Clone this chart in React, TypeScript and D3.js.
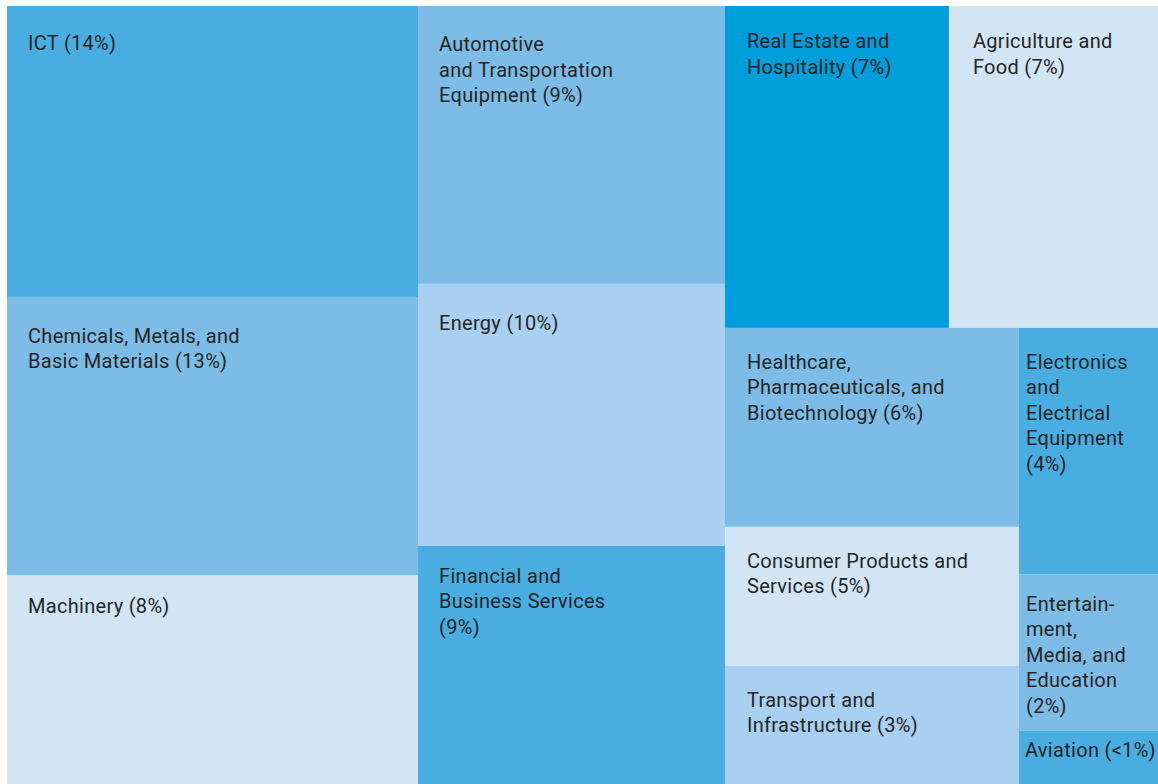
import React from "react";
import * as d3 from "d3";

// ---- data ----
const sectorNames = [
  "ICT",
  "Chemicals",
  "Machinery",
  "Automotive",
  "Energy",
  "Financial",
  "RealEstate",
  "Agriculture",
  "Healthcare",
  "Consumer",
  "Transport",
  "Electronics",
  "Entertainment",
  "Aviation",
];

// relative area of each tile
const sectorSizes = [119.6, 114.3, 85.9, 85.3, 80.4, 73.1, 72.1, 67.3, 58.5, 40.9, 34.7, 34.3, 21.7, 7.4];

const sectorLabels = [
  ["ICT (14%)"],
  ["Chemicals, Metals, and", "Basic Materials (13%)"],
  ["Machinery (8%)"],
  ["Automotive", "and Transportation", "Equipment (9%)"],
  ["Energy (10%)"],
  ["Financial and", "Business Services", "(9%)"],
  ["Real Estate and", "Hospitality (7%)"],
  ["Agriculture and", "Food (7%)"],
  ["Healthcare,", "Pharmaceuticals, and", "Biotechnology (6%)"],
  ["Consumer Products and", "Services (5%)"],
  ["Transport and", "Infrastructure (3%)"],
  ["Electronics", "and", "Electrical", "Equipment", "(4%)"],
  ["Entertain-", "ment,", "Media, and", "Education", "(2%)"],
  ["Aviation (<1%)"],
];

// group path of each sector in the nested layout
const sectorGroups = [
  "c1", "c1", "c1",
  "c2", "c2", "c2",
  "r/top", "r/top",
  "r/bot/left", "r/bot/left", "r/bot/left",
  "r/bot/right", "r/bot/right", "r/bot/right",
];

// ---- styles ----
const C1 = "#4aade2";
const C2 = "#7dbce6";
const C3 = "#a9d0f0";
const C4 = "#d2e5f5";
const C5 = "#009fdb";
const colors: Record<string, string> = {
  ICT: C1, Chemicals: C2, Machinery: C4,
  Automotive: C2, Energy: C3, Financial: C1,
  RealEstate: C5, Agriculture: C4,
  Healthcare: C2, Consumer: C4, Transport: C3,
  Electronics: C1, Entertainment: C2, Aviation: C1,
};
const padLeft: Record<string, number> = {
  ICT: 21, Chemicals: 21, Machinery: 21, Automotive: 21, Energy: 21, Financial: 21,
  RealEstate: 22, Agriculture: 24, Healthcare: 22, Consumer: 22, Transport: 22,
  Electronics: 7, Entertainment: 7, Aviation: 6,
};
const padTop: Record<string, number> = {
  ICT: 44, Chemicals: 46, Machinery: 38, Automotive: 45, Energy: 46, Financial: 37,
  RealEstate: 42, Agriculture: 42, Healthcare: 41, Consumer: 41, Transport: 41,
  Electronics: 41, Entertainment: 36, Aviation: 26,
};
// direction of each group: "h" = side by side, "v" = stacked
const groupDir: Record<string, string> = {
  root: "h", c1: "v", c2: "v", r: "v", "r/top": "h", "r/bot": "h", "r/bot/left": "v", "r/bot/right": "v",
};

const W = 1158;
const H = 784;
const X0 = 7;
const Y0 = 6;
const LINE = 25.5;

type Node = { id: string; children?: Node[]; size?: number; idx?: number };

function buildTree(): Node {
  const root: Node = { id: "root", children: [] };
  const map: Record<string, Node> = { root };
  sectorNames.forEach((name, i) => {
    const parts = sectorGroups[i].split("/");
    let parent = root;
    let path = "";
    parts.forEach((p) => {
      path = path ? path + "/" + p : p;
      if (!map[path]) {
        const n: Node = { id: path, children: [] };
        map[path] = n;
        parent.children!.push(n);
      }
      parent = map[path];
    });
    parent.children!.push({ id: name, size: sectorSizes[i], idx: i });
  });
  return root;
}

export default function App() {
  const root = d3
    .hierarchy<Node>(buildTree())
    .sum((d) => d.size || 0);

  const tile = (node: any, x0: number, y0: number, x1: number, y1: number) => {
    const dir = groupDir[node.data.id] || "v";
    if (dir === "h") d3.treemapDice(node, x0, y0, x1, y1);
    else d3.treemapSlice(node, x0, y0, x1, y1);
  };

  d3.treemap<Node>().tile(tile as any).size([W - X0, H - Y0]).round(false)(root);
  const leaves = root.leaves() as d3.HierarchyRectangularNode<Node>[];

  return (
    <svg
      width={W}
      height={H}
      style={{ position: "absolute", left: 0, top: 0, background: "#ffffff" }}
      fontFamily="Roboto, 'Liberation Sans', sans-serif"
    >
      <g transform={`translate(${X0},${Y0})`}>
        {leaves.map((l) => {
          const name = l.data.id;
          const idx = l.data.idx!;
          return (
            <g key={name}>
              <rect
                x={l.x0}
                y={l.y0}
                width={l.x1 - l.x0}
                height={l.y1 - l.y0}
                fill={colors[name]}
              />
              <text
                x={l.x0 + padLeft[name]}
                y={l.y0 + padTop[name]}
                fontSize={20}
                letterSpacing={0.3}
                fill="#252525"
              >
                {sectorLabels[idx].map((line, k) => (
                  <tspan key={k} x={l.x0 + padLeft[name]} dy={k === 0 ? 0 : LINE}>
                    {line}
                  </tspan>
                ))}
              </text>
            </g>
          );
        })}
      </g>
    </svg>
  );
}
